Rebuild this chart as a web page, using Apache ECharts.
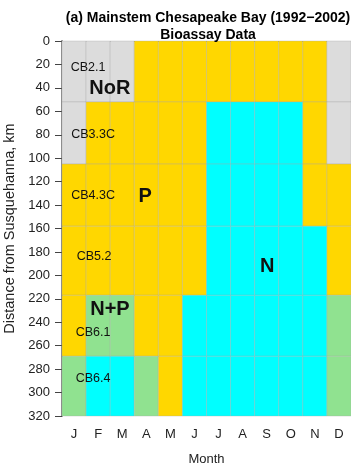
<!DOCTYPE html>
<html><head><meta charset="utf-8">
<script src="https://cdn.jsdelivr.net/npm/echarts@6/dist/echarts.min.js"></script>
<style>html,body{margin:0;padding:0;background:#fff}#c{width:351px;height:467px}</style>
</head><body><div id="c"></div>
<script>
const months = ['J','F','M','A','M','J','J','A','S','O','N','D'];
const stations = ['CB2.1','CB3.3C','CB4.3C','CB5.2','CB6.1','CB6.4'];
const rowStartKm = [0, 52, 105, 158, 217, 269];
const rowEndKm = [52, 105, 158, 217, 269, 320];
const rowCB21  = ['NoR','NoR','NoR','P','P','P','P','P','P','P','P','NoR'];
const rowCB33C = ['NoR','P','P','P','P','P','N','N','N','N','P','NoR'];
const rowCB43C = ['P','P','P','P','P','P','N','N','N','N','P','P'];
const rowCB52  = ['P','P','P','P','P','P','N','N','N','N','N','P'];
const rowCB61  = ['P','N+P','N+P','P','P','N','N','N','N','N','N','N+P'];
const rowCB64  = ['N+P','N','N','N+P','P','N','N','N','N','N','N','N+P'];
const rows = [rowCB21, rowCB33C, rowCB43C, rowCB52, rowCB61, rowCB64];
const yTicks = [0,20,40,60,80,100,120,140,160,180,200,220,240,260,280,300,320];
// annotations
const annText  = ['CB2.1','NoR','CB3.3C','CB4.3C','P','CB5.2','N','N+P','CB6.1','CB6.4'];
const annMonth = [0.58, 1.49, 0.79, 0.79, 2.95, 0.83, 8.02, 1.49, 0.79, 0.79];
const annKm    = [23, 40.5, 79.5, 132, 132.5, 184, 192, 229, 249, 288];
const annBold  = [false, true, false, false, true, false, true, true, false, false];

const colorMap = {'NoR':'#DCDCDC','P':'#FFD700','N':'#00FFFF','N+P':'#90E290'};

const cells = [];
rows.forEach((r, ri) => r.forEach((c, mi) => cells.push([mi, rowStartKm[ri], rowEndKm[ri], c])));
const ann = annText.map((t, i) => [annMonth[i], annKm[i], t, annBold[i] ? 1 : 0]);

const chart = echarts.init(document.getElementById('c'), null, {renderer:'canvas'});
const FONT = 'Liberation Sans, Arial, sans-serif';
chart.setOption({
  animation: false,
  title: {
    text: '(a) Mainstem Chesapeake Bay (1992\u22122002)\nBioassay Data',
    left: 203, top: 5, textAlign: 'center',
    textStyle: {fontFamily: FONT, fontSize: 14, fontWeight: 'bold', color: '#000', lineHeight: 17}
  },
  grid: {left: 62, top: 41, width: 289, height: 375, containLabel: false, outerBoundsMode: 'none'},
  xAxis: [{
    type: 'category', data: months, position: 'bottom',
    axisLine: {lineStyle: {color: '#444', width: 1}},
    axisTick: {alignWithLabel: true, length: 7, lineStyle: {color: '#444'}},
    axisLabel: {fontFamily: FONT, fontSize: 13, color: '#222', margin: 12},
    name: 'Month', nameLocation: 'middle', nameGap: 37,
    nameTextStyle: {fontFamily: FONT, fontSize: 13, color: '#222'},
    splitLine: {show: false}
  },{
    type: 'category', data: months, position: 'top',
    axisLine: {lineStyle: {color: '#222', width: 1}},
    axisTick: {show: false}, axisLabel: {show: false}
  }],
  yAxis: {
    type: 'value', inverse: true, min: 0, max: 320, interval: 20,
    axisLine: {show: true, lineStyle: {color: '#888', width: 2}},
    axisTick: {show: true, length: 7, lineStyle: {color: '#444'}},
    axisLabel: {fontFamily: FONT, fontSize: 13, color: '#222', margin: 12},
    splitLine: {show: false},
    name: 'Distance from Susquehanna, km', nameLocation: 'middle', nameGap: 40,
    nameTextStyle: {fontFamily: FONT, fontSize: 14.5, color: '#222'}
  },
  series: [{
    type: 'custom', xAxisIndex: 0, yAxisIndex: 0, data: cells,
    renderItem: (params, api) => {
      const m = api.value(0);
      const p0 = api.coord([m, api.value(1)]);
      const p1 = api.coord([m, api.value(2)]);
      const w = api.size([1, 0])[0];
      const cat = cells[params.dataIndex][3];
      return {type: 'rect',
        shape: {x: p0[0] - w/2, y: p0[1], width: w, height: p1[1] - p0[1]},
        style: {fill: colorMap[cat], stroke: 'rgba(170,170,170,0.35)', lineWidth: 1}};
    }
  },{
    type: 'custom', xAxisIndex: 0, yAxisIndex: 0, data: ann, z: 5,
    renderItem: (params, api) => {
      const d = ann[params.dataIndex];
      const mi = Math.floor(d[0]);
      const p = api.coord([mi, d[1]]);
      const w = api.size([1, 0])[0];
      return {type: 'text', x: p[0] + (d[0] - mi) * w, y: p[1],
        style: {text: d[2], align: 'center', verticalAlign: 'middle',
          font: (d[3] ? 'bold 20px ' : '12.5px ') + FONT, fill: '#111'}};
    }
  }]
});
</script></body></html>
